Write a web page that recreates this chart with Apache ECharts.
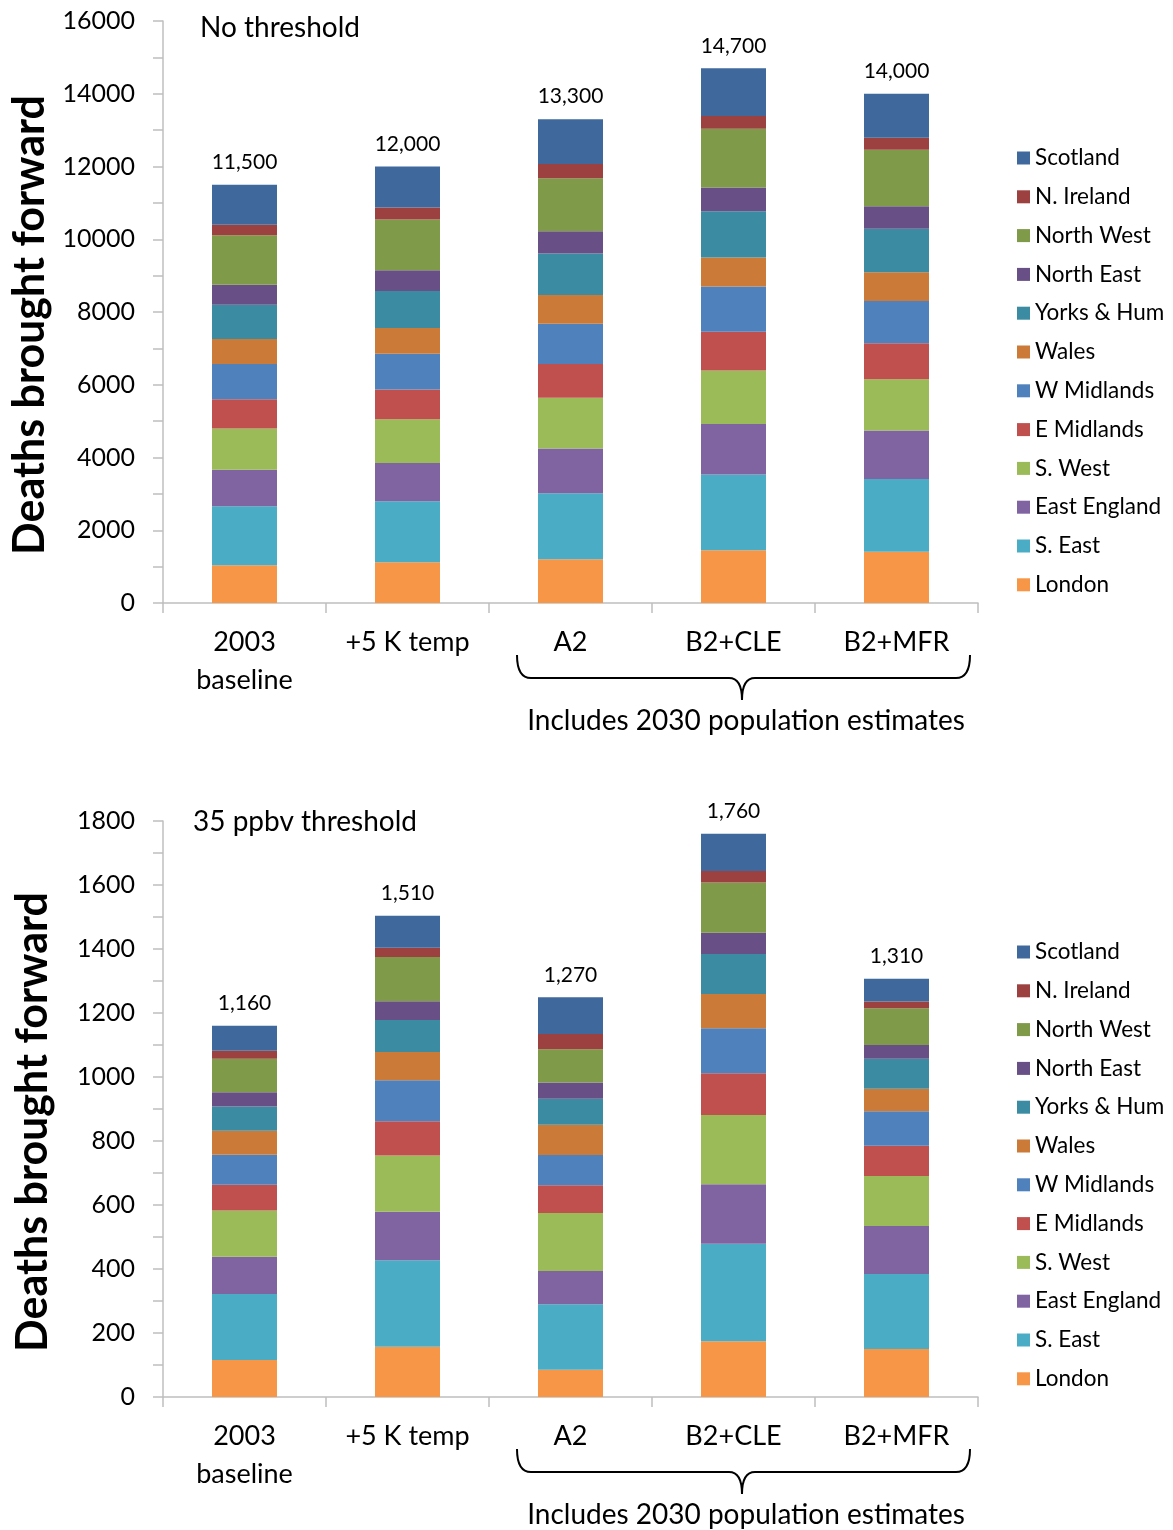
<!DOCTYPE html>
<html>
<head>
<meta charset="utf-8">
<script src="https://cdn.jsdelivr.net/npm/echarts@6/dist/echarts.min.js"></script>
<style>
html,body{margin:0;padding:0;background:#fff;}
#chart{width:1173px;height:1530px;}
</style>
</head>
<body>
<div id="chart"></div>
<script>
// ---- Data ----
const categories = ['2003\nbaseline', '+5 K temp', 'A2', 'B2+CLE', 'B2+MFR'];
const regions = ['London', 'S. East', 'East England', 'S. West', 'E Midlands', 'W Midlands', 'Wales', 'Yorks & Hum', 'North East', 'North West', 'N. Ireland', 'Scotland'];
const regionColors = ['#F79646', '#4BACC6', '#8064A2', '#9BBB59', '#C0504D', '#4F81BD', '#CB7B37', '#3B8BA3', '#684F86', '#7F9A48', '#9D4040', '#3F699C'];

// No threshold panel (deaths brought forward)
const topLondon      = [1040, 1120, 1200, 1450, 1410];
const topSEast       = [1620, 1680, 1820, 2080, 2000];
const topEastEngland = [1000, 1050, 1230, 1390, 1330];
const topSWest       = [1140, 1200, 1390, 1470, 1410];
const topEMidlands   = [800, 820, 930, 1070, 990];
const topWMidlands   = [970, 980, 1110, 1240, 1160];
const topWales       = [690, 710, 790, 800, 790];
const topYorks       = [940, 1020, 1140, 1270, 1200];
const topNorthEast   = [550, 570, 610, 650, 620];
const topNorthWest   = [1360, 1390, 1460, 1620, 1550];
const topNIreland    = [290, 330, 390, 350, 330];
const topScotland    = [1100, 1130, 1230, 1310, 1210];
const topTotals      = [11500, 12000, 13300, 14700, 14000];

// 35 ppbv threshold panel
const botLondon      = [116, 157, 85, 174, 150];
const botSEast       = [206, 270, 205, 305, 234];
const botEastEngland = [116, 152, 104, 186, 150];
const botSWest       = [145, 176, 181, 216, 157];
const botEMidlands   = [80, 107, 87, 131, 94];
const botWMidlands   = [94, 128, 94, 140, 108];
const botWales       = [75, 88, 95, 107, 70];
const botYorks       = [76, 100, 81, 125, 94];
const botNorthEast   = [44, 59, 51, 67, 43];
const botNorthWest   = [105, 138, 104, 157, 115];
const botNIreland    = [25, 29, 47, 36, 21];
const botScotland    = [78, 100, 115, 116, 71];
const botTotals      = [1160, 1510, 1270, 1760, 1310];

const topSeriesData = [topLondon, topSEast, topEastEngland, topSWest, topEMidlands, topWMidlands, topWales, topYorks, topNorthEast, topNorthWest, topNIreland, topScotland];
const botSeriesData = [botLondon, botSEast, botEastEngland, botSWest, botEMidlands, botWMidlands, botWales, botYorks, botNorthEast, botNorthWest, botNIreland, botScotland];

// ---- Chart ----
const FONT = 'Lato, "Open Sans", sans-serif';
const chart = echarts.init(document.getElementById('chart'), null, {renderer: 'canvas'});

function makeSeries(dataSets, totals, axisIdx, stackName) {
  return dataSets.map((d, i) => {
    const s = {
      name: regions[i],
      type: 'bar',
      stack: stackName,
      xAxisIndex: axisIdx,
      yAxisIndex: axisIdx,
      barWidth: 65,
      data: d,
      itemStyle: {color: regionColors[i]},
      emphasis: {disabled: true},
      animation: false
    };
    if (i === dataSets.length - 1) {
      s.label = {
        show: true,
        position: 'top',
        distance: 12,
        fontFamily: FONT,
        fontSize: 21,
        color: '#000',
        formatter: p => totals[p.dataIndex].toLocaleString('en-US')
      };
    }
    return s;
  });
}

const axisGray = '#BFBFBF';

function xAxisCfg(gridIndex) {
  return {
    type: 'category',
    gridIndex: gridIndex,
    data: categories,
    axisLine: {lineStyle: {color: axisGray, width: 1.5}},
    axisTick: {show: true, length: 10, lineStyle: {color: axisGray, width: 1.5}},
    axisLabel: {fontFamily: FONT, fontSize: 27, color: '#000', margin: 20, lineHeight: 38, interval: 0},
    splitLine: {show: false}
  };
}

function yAxisCfg(gridIndex, max, step, labelStep) {
  return {
    type: 'value',
    gridIndex: gridIndex,
    min: 0,
    max: max,
    interval: step,
    name: 'Deaths brought forward',
    nameLocation: 'middle',
    nameRotate: 90,
    nameGap: 108,
    nameTextStyle: {fontFamily: FONT, fontSize: 43, fontWeight: 'bold', color: '#000', padding: [0, 26, 0, 0]},
    axisLine: {show: true, lineStyle: {color: axisGray, width: 1.5}},
    axisTick: {show: true, length: 10, lineStyle: {color: axisGray, width: 1.5}},
    axisLabel: {
      fontFamily: FONT, fontSize: 25, color: '#000', margin: 28,
      formatter: v => (v % labelStep === 0 ? String(v) : '')
    },
    splitLine: {show: false}
  };
}

function legendCfg(top) {
  return {
    orient: 'vertical',
    left: 1012,
    top: top,
    icon: 'rect',
    itemWidth: 13,
    itemHeight: 13,
    itemGap: 12.8,
    selectedMode: false,
    data: regions.slice().reverse(),
    textStyle: {fontFamily: FONT, fontSize: 22.5, color: '#000', lineHeight: 26}
  };
}

function bracket(y0) {
  const yh = y0 + 23, yn = y0 + 45;
  const st = {stroke: '#000', lineWidth: 2, fill: null};
  return [
    {type: 'bezierCurve', shape: {x1: 517, y1: y0, x2: 531, y2: yh, cpx1: 517, cpy1: yh}, style: st},
    {type: 'line', shape: {x1: 531, y1: yh, x2: 729, y2: yh}, style: st},
    {type: 'bezierCurve', shape: {x1: 729, y1: yh, x2: 742, y2: yn, cpx1: 742, cpy1: yh}, style: st},
    {type: 'bezierCurve', shape: {x1: 742, y1: yn, x2: 755, y2: yh, cpx1: 742, cpy1: yh}, style: st},
    {type: 'line', shape: {x1: 755, y1: yh, x2: 956, y2: yh}, style: st},
    {type: 'bezierCurve', shape: {x1: 956, y1: yh, x2: 970, y2: y0, cpx1: 970, cpy1: yh}, style: st}
  ];
}

const option = {
  backgroundColor: '#fff',
  animation: false,
  grid: [
    {left: 163, top: 21, width: 815, height: 582, containLabel: false},
    {left: 163, top: 821, width: 815, height: 576, containLabel: false}
  ],
  xAxis: [xAxisCfg(0), xAxisCfg(1)],
  yAxis: [yAxisCfg(0, 16000, 1000, 2000), yAxisCfg(1, 1800, 100, 200)],
  legend: [legendCfg(140), legendCfg(934)],
  series: makeSeries(topSeriesData, topTotals, 0, 'top').concat(makeSeries(botSeriesData, botTotals, 1, 'bot')),
  graphic: [
    {type: 'text', x: 200, y: 28, style: {text: 'No threshold', font: '28px ' + FONT, fill: '#000', verticalAlign: 'middle'}},
    {type: 'text', x: 193, y: 822, style: {text: '35 ppbv threshold', font: '28px ' + FONT, fill: '#000', verticalAlign: 'middle'}},
    {type: 'text', x: 746, y: 721, style: {text: 'Includes 2030 population estimates', font: '28px ' + FONT, fill: '#000', align: 'center', verticalAlign: 'middle'}},
    {type: 'text', x: 746, y: 1515, style: {text: 'Includes 2030 population estimates', font: '28px ' + FONT, fill: '#000', align: 'center', verticalAlign: 'middle'}}
  ].concat(bracket(655), bracket(1449))
};
chart.setOption(option);
</script>
</body>
</html>
